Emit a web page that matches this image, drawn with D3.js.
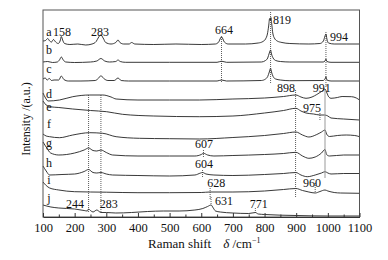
<!DOCTYPE html>
<html><head><meta charset="utf-8">
<script src="https://cdn.jsdelivr.net/npm/d3@7"></script>
<style>
html,body{margin:0;padding:0;background:#fff;}
svg{display:block;font-family:"Liberation Serif","Times New Roman",serif;}
svg text{font-family:"Liberation Serif","Times New Roman",serif;}
</style></head>
<body>
<svg id="chart" width="388" height="260"></svg>
<script>
// ---------- data (Raman shift cm^-1, intensity a.u.) ----------
const categories = ["a","b","c","d","e","f","g","h","i","j"];
const categoryLabelLevel = [181,163,144.3,119.5,106.5,88.7,70,50.3,33,15];

const spectrumA = [[100,176],[108,176.5],[115,178.5],[121,176],[127,175],[133,177.5],[140,175],[148,173.5],[154,176],[158,180.5],[162,177],[168,173.5],[185,172.5],[210,173],[235,172],[255,173],[268,175.5],[276,180],[283,182],[290,179],[298,174.5],[315,173],[330,174.5],[337,177],[343,174.5],[355,173],[372,173],[380,174.5],[390,173],[450,172.5],[520,173],[600,172.5],[645,173],[655,175],[661,179],[664,180.5],[667,179],[673,175],[685,173],[740,173],[780,174],[795,175.5],[803,178],[809,183],[813,191],[816,198.5],[818,196.5],[820,199.5],[823,192],[826,184],[831,179],[840,176],[855,174.5],[880,173.5],[940,173],[975,173.5],[986,176],[991,181],[994,183],[997,178],[1002,174],[1020,173],[1060,173],[1100,173]];
const spectrumB = [[100,155],[115,155.5],[130,154.5],[145,155],[152,157],[158,160],[164,157],[172,155],[200,154.5],[250,155],[270,156],[283,158.5],[295,156],[310,155],[330,155.5],[337,157],[344,155.5],[360,154.7],[500,154.7],[650,154.7],[664,155.8],[680,154.7],[790,155],[803,156.5],[810,159],[815,164],[819,167],[822,163],[827,159],[835,156.5],[850,155.5],[880,155],[985,155],[991,156],[994,158],[997,155.5],[1010,154.7],[1100,154.7]];
const spectrumC = [[100,138],[107,139],[113,137],[120,138.5],[127,136.5],[135,137],[150,137],[158,141],[166,137.5],[180,136],[220,136],[265,136.5],[276,139],[283,141.3],[292,138.5],[305,136.5],[325,136.5],[337,139],[347,136.5],[370,136],[500,136],[650,136],[664,137],[680,136],[790,136.5],[803,138],[810,140.5],[815,145],[819,148.7],[822,145],[827,140.5],[835,138],[850,137],[880,136.3],[985,136.5],[991,138],[994,140.3],[997,137],[1010,136],[1100,136]];
const spectrumD = [[100,124],[108,119],[116,116],[152,117],[194,120.3],[247,122],[289,122],[315,120],[331,118],[400,117],[500,117],[594,117],[700,118],[800,119],[860,120.5],[899,122],[915,120],[931,118.7],[950,120],[965,122.5],[980,125.5],[991,128],[997,124],[1003,120],[1010,118.7],[1030,119.5],[1045,120.5],[1075,120.3],[1090,119],[1100,117]];
const spectrumE = [[100,116],[110,112],[121,110.3],[150,109.5],[194,108],[250,106.5],[301,105.3],[351,102.7],[450,101],[594,100.3],[700,101],[800,104],[860,106.5],[899,108.7],[915,106],[931,104],[955,103],[975,102],[990,102],[1000,101],[1010,99],[1050,98],[1100,97]];
const spectrumF = [[100,83],[110,81],[121,80.3],[152,79.3],[194,82],[247,84.3],[289,83.7],[331,80.3],[405,78.7],[500,78.3],[594,78],[700,79.5],[800,81.5],[860,83.5],[899,85],[920,82],[940,80],[965,82.5],[980,85],[991,87],[996,83],[1005,80.5],[1030,81.5],[1058,82],[1085,81.5],[1100,80.3]];
const spectrumG = [[100,75],[112,69],[124,64],[150,62],[200,64],[230,67],[244,69],[258,66.5],[270,66],[283,67],[300,64.5],[320,62],[400,61],[500,61],[580,61],[600,62.5],[607,63.7],[620,62],[640,61],[700,61.5],[800,62.5],[860,63.5],[899,64.7],[920,61],[940,58.7],[960,60],[980,64],[991,67.5],[996,62.5],[1005,61],[1050,62],[1100,62]];
const spectrumH = [[100,51],[110,46],[121,42],[160,42.5],[200,43],[230,45.5],[244,47.5],[258,44.5],[270,44],[283,44.5],[300,43],[320,42],[400,41.5],[500,41],[580,42],[598,44],[604,44.5],[615,43],[640,42],[700,41.5],[800,42.5],[860,43.5],[899,44.5],[915,42],[935,40.3],[960,42],[980,44],[991,45.3],[1000,44],[1010,43],[1050,43.5],[1100,43.5]];
const spectrumI = [[100,35],[110,31.5],[121,29],[150,27],[200,25.3],[300,24.8],[400,24.3],[500,24.3],[600,24.5],[628,25],[700,25],[800,26],[860,27.5],[899,28.5],[920,26.5],[940,25],[960,24],[975,25.5],[991,27],[1000,26],[1020,24.5],[1040,24],[1100,23.7]];
const spectrumJ = [[100,12],[125,10],[150,9],[200,8],[230,6.5],[240,6],[244,8],[250,6.5],[258,5],[270,7],[283,4.5],[300,4.5],[330,4],[380,4.5],[430,5.5],[480,6],[530,6],[580,7],[605,8.5],[620,10.5],[631,12],[638,9],[645,6],[660,5],[700,4],[750,3.5],[771,4.5],[780,3],[800,2.5],[900,1.5],[1000,1],[1100,1]];
const spectra = [spectrumA,spectrumB,spectrumC,spectrumD,spectrumE,spectrumF,spectrumG,spectrumH,spectrumI,spectrumJ];

// peak marker lines: wavenumber, intensity from, intensity to
const markerShift = [664,819,994,898,991,975,244,283,607,604,628,631,771,960];
const markerFrom  = [180,205,185,127,127,104,122,122,67,47,29,20,9,34];
const markerTo    = [135,134,130,20,39,97,5,5,60,39,17,13,3,25];
// peak labels: text, anchor shift, anchor intensity
const peakText  = ["158","283","664","819","994","898","991","975","607","604","628","631","771","960","244","283"];
const peakAtX   = [160,280,672,855,1035,868,981,950,609,609,647,672,782,950,201,308];
const peakAtY   = [181,181,183,193,176,125.5,125.5,105.5,69,49,30.5,12,9,30.5,9,9];

const xTicks = [100,200,300,400,500,600,700,800,900,1000,1100];
const xMinorTicks = [150,250,350,450,550,650,750,850,950,1050];

// ---------- drawing ----------
const svg = d3.select("#chart");
const FONT = "Liberation Serif, Times New Roman, serif";
const L=43, R=359.5, T=10, B=217;
const x = d3.scaleLinear().domain([100,1100]).range([L,R]);
const y = d3.scaleLinear().domain([0,207]).range([B,T]);

// traces
const line = d3.line().x(d=>x(d[0])).y(d=>y(d[1])).curve(d3.curveMonotoneX);
svg.append("g").selectAll("path").data(spectra).join("path")
  .attr("d", line).attr("fill","none").attr("stroke","#222").attr("stroke-width",0.9);

// marker lines
svg.append("g").selectAll("line").data(markerShift).join("line")
  .attr("x1",d=>x(d)).attr("x2",d=>x(d))
  .attr("y1",(d,i)=>y(markerFrom[i])).attr("y2",(d,i)=>y(markerTo[i]))
  .attr("stroke",(d,i)=> i===4 ? "#999" : "#333")
  .attr("stroke-width",(d,i)=> i===4 ? 1 : 0.8)
  .attr("stroke-dasharray",(d,i)=> i===4 ? null : "1,1");

// frame
svg.append("rect").attr("x",L).attr("y",T).attr("width",R-L).attr("height",B-T)
  .attr("fill","none").attr("stroke","#555").attr("stroke-width",1);

// axis
const ax = svg.append("g").attr("transform",`translate(0,${B})`)
  .call(d3.axisBottom(x).tickValues(xTicks).tickFormat(d3.format("d"))
    .tickSizeInner(-4).tickSizeOuter(0).tickPadding(6))
  .attr("font-family",FONT);
ax.select(".domain").attr("stroke","#333");
ax.selectAll(".tick line").attr("stroke","#333");
ax.selectAll("text").attr("font-size",12.5).attr("fill","#111");
const axm = svg.append("g").attr("transform",`translate(0,${B})`)
  .call(d3.axisBottom(x).tickValues(xMinorTicks).tickSizeInner(-2.5).tickSizeOuter(0).tickFormat(""));
axm.select(".domain").remove();
axm.selectAll(".tick line").attr("stroke","#333");

// category letters
svg.append("g").attr("font-family",FONT).selectAll("text").data(categories).join("text")
  .attr("x",x(119)).attr("y",(d,i)=>y(categoryLabelLevel[i]))
  .attr("text-anchor","middle").attr("font-size",12).attr("fill","#111").text(d=>d);

// peak labels
svg.append("g").attr("font-family",FONT).selectAll("text").data(peakText).join("text")
  .attr("x",(d,i)=>x(peakAtX[i])).attr("y",(d,i)=>y(peakAtY[i]))
  .attr("text-anchor","middle").attr("font-size",12).attr("fill","#111").text(d=>d);

// axis titles
const xt = svg.append("text").attr("x",148).attr("y",248).attr("font-size",13)
  .attr("fill","#111").attr("font-family",FONT);
xt.append("tspan").text("Raman shift");
xt.append("tspan").attr("dx",12).attr("font-style","italic").text("δ");
xt.append("tspan").text(" /cm");
xt.append("tspan").attr("font-size",8).attr("dy",-5).text("−1");

svg.append("text").attr("transform","translate(30,119) rotate(-90)")
  .attr("text-anchor","middle").attr("font-size",12).attr("fill","#111")
  .attr("font-family",FONT).text("Intensity /(a.u.)");
</script>
</body></html>
